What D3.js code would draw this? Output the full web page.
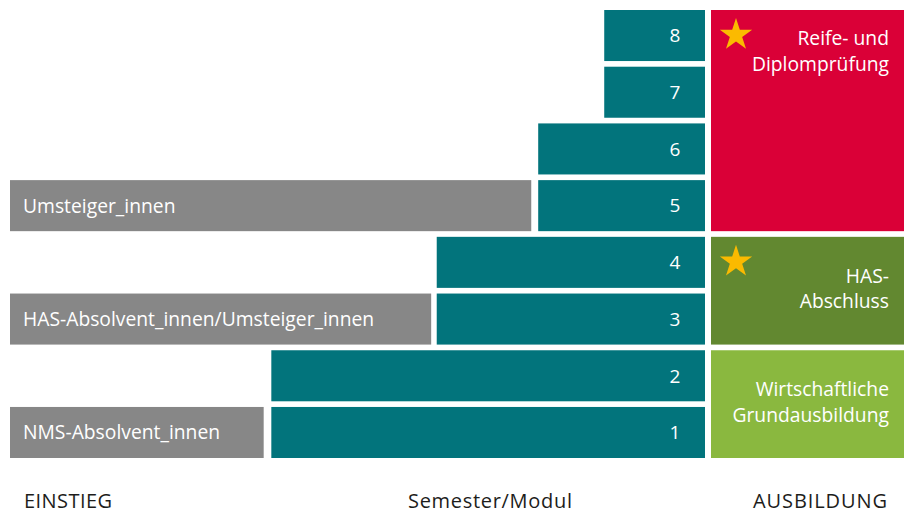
<!DOCTYPE html>
<html>
<head>
<meta charset="utf-8">
<script src="https://cdn.jsdelivr.net/npm/d3@7"></script>
<style>
    html, body { margin: 0; padding: 0; background: #fff; }
    svg text { font-family: "Open Sans", sans-serif; }
</style>
</head>
<body>
<div id="chart"></div>
<script>
// Semesters (modules), bottom to top
const semesters = [1, 2, 3, 4, 5, 6, 7, 8];
// where each semester bar starts on the time axis (0..100, bars end at 100)
const semesterStart = [37.6, 37.6, 61.4, 61.4, 76, 76, 85.5, 85.5];

// Entry points (grey bars)
const entryLabels = ["NMS-Absolvent_innen", "HAS-Absolvent_innen/Umsteiger_innen", "Umsteiger_innen"];
const entrySemester = [1, 3, 5];
const entryEnd = [36.5, 60.6, 75.0];

// Qualifications (right column)
const qualLines = [["Wirtschaftliche", "Grundausbildung"], ["HAS-", "Abschluss"], ["Reife- und", "Diplomprüfung"]];
const qualFrom = [1, 3, 5];
const qualTo = [2, 4, 8];
const qualStar = [false, true, true];
const qualColors = ["#8ab83f", "#628830", "#da0037"];

const footerLabels = ["EINSTIEG", "Semester/Modul", "AUSBILDUNG"];

const width = 904, height = 514;
const teal = "#02747c", grey = "#878787", ink = "#1d1d1b";
const fontSize = "19.3px";

const svg = d3.select("#chart").append("svg")
    .attr("width", width)
    .attr("height", height);

const x = d3.scaleLinear().domain([0, 100]).range([10, 705]);
const y = d3.scaleBand()
    .domain(semesters.slice().reverse())
    .range([10, 458])
    .paddingInner(0.1)
    .paddingOuter(0);

// semester bars
const sem = svg.append("g").selectAll("g")
    .data(semesters)
    .join("g");

sem.append("rect")
    .attr("x", (d, i) => x(semesterStart[i]))
    .attr("y", d => y(d))
    .attr("width", (d, i) => x(100) - x(semesterStart[i]))
    .attr("height", y.bandwidth())
    .attr("fill", teal);

sem.append("text")
    .attr("x", x(100) - 30)
    .attr("y", d => y(d) + y.bandwidth() / 2)
    .attr("dy", "0.36em")
    .attr("text-anchor", "middle")
    .attr("fill", "#fff")
    .style("font-size", "19px")
    .text(d => d);

// entry bars
const entry = svg.append("g").selectAll("g")
    .data(entryLabels)
    .join("g");

entry.append("rect")
    .attr("x", x(0))
    .attr("y", (d, i) => y(entrySemester[i]))
    .attr("width", (d, i) => x(entryEnd[i]) - x(0))
    .attr("height", y.bandwidth())
    .attr("fill", grey);

entry.append("text")
    .attr("x", x(0) + 13)
    .attr("y", (d, i) => y(entrySemester[i]) + y.bandwidth() / 2)
    .attr("dy", "0.36em")
    .attr("fill", "#fff")
    .style("font-size", fontSize)
    .text(d => d);

// qualification blocks
const colX0 = x(100) + 6, colX1 = width;
const star = d3.symbol(d3.symbolStar, 325);

const qual = svg.append("g").selectAll("g")
    .data(qualLines)
    .join("g");

qual.append("rect")
    .attr("x", colX0)
    .attr("y", (d, i) => y(qualTo[i]))
    .attr("width", colX1 - colX0)
    .attr("height", (d, i) => y(qualFrom[i]) + y.bandwidth() - y(qualTo[i]))
    .attr("fill", (d, i) => qualColors[i]);

qual.each(function(lines, i) {
    const g = d3.select(this);
    const top = y(qualTo[i]);
    const bottom = y(qualFrom[i]) + y.bandwidth();
    const rows = qualTo[i] - qualFrom[i] + 1;
    // tall block: text at top, otherwise centred
    const y0 = rows > 2 ? top + 35 : (top + bottom) / 2 - 8;
    g.append("text")
        .attr("text-anchor", "end")
        .attr("fill", "#fff")
        .style("font-size", fontSize)
        .selectAll("tspan")
        .data(lines)
        .join("tspan")
        .attr("x", colX1 - 15)
        .attr("y", (d, j) => y0 + j * 25.5)
        .text(d => d);
    if (qualStar[i]) {
        g.append("path")
            .attr("d", star())
            .attr("transform", `translate(${colX0 + 25},${top + 25})`)
            .attr("fill", "#fbba00");
    }
});

// footer
svg.append("g").selectAll("text")
    .data(footerLabels)
    .join("text")
    .attr("x", (d, i) => [24, 490, 887][i])
    .attr("y", 508)
    .attr("text-anchor", (d, i) => ["start", "middle", "end"][i])
    .attr("textLength", (d, i) => [88, 164, 134][i])
    .attr("lengthAdjust", "spacing")
    .attr("fill", ink)
    .style("font-size", "20px")
    .text(d => d);
</script>
</body>
</html>
